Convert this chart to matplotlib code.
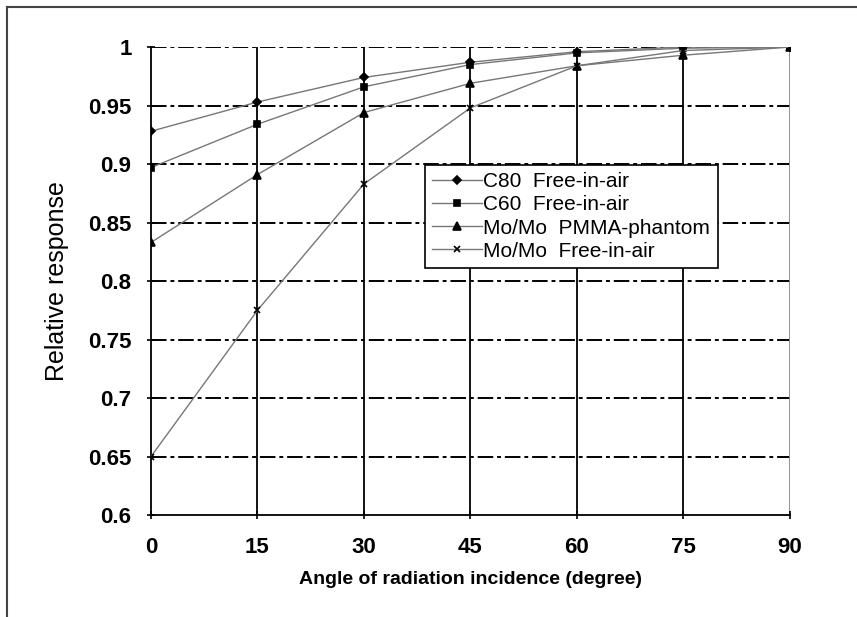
import matplotlib.pyplot as plt
from matplotlib.lines import Line2D

# angles of incidence (degree)
angles = [0, 15, 30, 45, 60, 75, 90]

# relative response for each setup
c80_air = [0.928, 0.953, 0.974, 0.987, 0.996, 1.000, 1.000]
c60_air = [0.897, 0.934, 0.966, 0.985, 0.995, 0.999, 1.000]
momo_pmma = [0.833, 0.891, 0.944, 0.969, 0.984, 0.993, 1.000]
momo_air = [0.650, 0.775, 0.883, 0.948, 0.984, 0.997, 1.000]

labels = ["C80  Free-in-air", "C60  Free-in-air",
          "Mo/Mo  PMMA-phantom", "Mo/Mo  Free-in-air"]
yticks = [0.6, 0.65, 0.7, 0.75, 0.8, 0.85, 0.9, 0.95, 1.0]

plt.rcParams['font.family'] = ['Liberation Sans', 'DejaVu Sans']

fig = plt.figure(figsize=(8.57, 6.17), dpi=100)
ax = fig.add_axes([0.1762, 0.1653, 0.9218 - 0.1762, 0.9238 - 0.1653])

# outer frame (only top and left visible in the source)
fig.add_artist(Line2D([7 / 857, 1.0], [1 - 7 / 617, 1 - 7 / 617],
                      transform=fig.transFigure, color="#444444", lw=1.5))
fig.add_artist(Line2D([7 / 857, 7 / 857], [0.0, 1 - 7 / 617],
                      transform=fig.transFigure, color="#444444", lw=1.5))

# grid
for v in yticks[1:]:
    ax.axhline(v, color="black", lw=1.4, ls=(0, (8, 2, 2, 2)), zorder=1)
for a in angles[1:]:
    ax.axvline(a, color="black" if a < 90 else "#888888", lw=1.3, zorder=1)

series = [c80_air, c60_air, momo_pmma, momo_air]
markers = ["D", "s", "^", "x"]
msizes = [4, 4, 6, 4]
for vals, m, ms, lab in zip(series, markers, msizes, labels):
    ax.plot(angles, vals, color="#777777", lw=1.0, marker=m, ms=ms,
            mfc="black", mec="black", mew=1.2, label=lab, zorder=3)

ax.set_xlim(0, 90)
ax.set_ylim(0.6, 1.0)
ax.set_xticks(angles)
ax.set_yticks(yticks)
ax.set_yticklabels([f"{v:g}" for v in yticks])
ax.tick_params(axis="both", direction="inout", length=6, width=1.2,
               labelsize=16)
ax.tick_params(axis="x", pad=13)
ax.tick_params(axis="y", pad=11)
for t in ax.get_xticklabels() + ax.get_yticklabels():
    t.set_fontweight("bold")

for s in ["top", "right"]:
    ax.spines[s].set_visible(False)
for s in ["left", "bottom"]:
    ax.spines[s].set_linewidth(1.3)

ax.set_xlabel("Angle of radiation incidence (degree)", fontsize=14,
              fontweight="bold", labelpad=9)
ax.set_ylabel("Relative response", fontsize=18, labelpad=14)

leg = ax.legend(loc="upper left", bbox_to_anchor=(0.429, 0.748),
                fontsize=15, frameon=True, fancybox=False, framealpha=1,
                edgecolor="black", handlelength=2.4, handletextpad=0.05,
                labelspacing=0.2, borderpad=0.35, borderaxespad=0)
leg.get_frame().set_linewidth(1.2)
leg.set_zorder(5)

fig.savefig("out.png", dpi=100)
